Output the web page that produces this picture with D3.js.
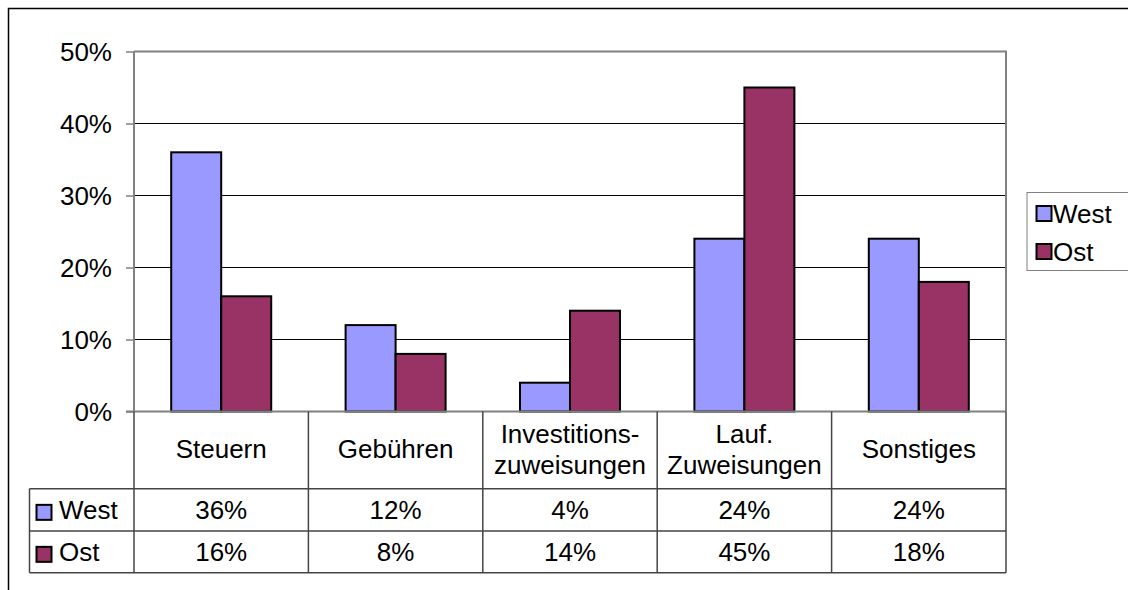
<!DOCTYPE html>
<html lang="de">
<head>
<meta charset="UTF-8">
<title>West / Ost</title>
<script src="https://d3js.org/d3.v7.min.js"></script>
<style>
    body { margin: 0; padding: 0; background: #fff; }
    svg text { font-family: "Liberation Sans", Arial, sans-serif; font-size: 26px; fill: #000; }
</style>
</head>
<body>
<svg width="1128" height="590"></svg>
<script>
    // data
    const categories = ["Steuern", "Gebühren", "Investitions-\nzuweisungen", "Lauf.\nZuweisungen", "Sonstiges"];
    const seriesNames = ["West", "Ost"];
    const westValues = [36, 12, 4, 24, 24];
    const ostValues = [16, 8, 14, 45, 18];
    const yTicks = [0, 10, 20, 30, 40, 50];
    const colors = { West: "#9999ff", Ost: "#993366" };

    const svg = d3.select("svg");
    const plotLeft = 134, plotRight = 1006, plotTop = 51.5, zero = 411.5;
    const rowLines = [488.7, 531, 572.7];
    const tableLeft = 29.5;

    // outer frame (runs off the canvas right and bottom)
    svg.append("path")
        .attr("d", "M8.5,600 V8.5 H1140")
        .attr("fill", "none").attr("stroke", "#000").attr("stroke-width", 1.5);

    const x = d3.scaleBand().domain(categories).range([plotLeft, plotRight]);
    const xs = d3.scaleBand().domain(seriesNames).range([0, x.bandwidth()]).paddingOuter(0.744);
    const y = d3.scaleLinear().domain([0, 50]).range([zero, plotTop]);

    // gridlines
    svg.append("g").selectAll("line")
        .data(yTicks.filter(d => d > 0 && d < 50))
        .join("line")
        .attr("x1", plotLeft).attr("x2", plotRight)
        .attr("y1", d => y(d)).attr("y2", d => y(d))
        .attr("stroke", "#000").attr("stroke-width", 1);

    // plot frame top and right
    svg.append("path")
        .attr("d", `M${plotLeft},${y(50)} H${plotRight} V${zero}`)
        .attr("fill", "none").attr("stroke", "#808080").attr("stroke-width", 2);

    // bars
    const rows = categories.map((c, i) => ({ cat: c, West: westValues[i], Ost: ostValues[i] }));
    svg.append("g").selectAll("g")
        .data(rows)
        .join("g")
        .attr("transform", d => `translate(${x(d.cat)},0)`)
        .selectAll("rect")
        .data(d => seriesNames.map(s => ({ s, v: d[s] })))
        .join("rect")
        .attr("x", d => xs(d.s))
        .attr("width", xs.bandwidth())
        .attr("y", d => y(d.v))
        .attr("height", d => zero - y(d.v))
        .attr("fill", d => colors[d.s])
        .attr("stroke", "#000").attr("stroke-width", 2);

    // y axis
    const yAxis = svg.append("g")
        .attr("transform", `translate(${plotLeft},0)`)
        .call(d3.axisLeft(y).tickValues(yTicks).tickFormat(d => d + "%").tickSize(8).tickPadding(14));
    yAxis.select(".domain").attr("stroke", "#808080").attr("stroke-width", 2).attr("d", `M0,${zero}V${plotTop}`);
    yAxis.selectAll(".tick line").attr("stroke", "#808080").attr("stroke-width", 1.5);
    yAxis.selectAll(".tick text").attr("font-size", 26).attr("font-family", "Liberation Sans, Arial, sans-serif")
        .attr("fill", "#000").attr("dy", "0.35em");

    // x axis baseline
    svg.append("line")
        .attr("x1", plotLeft - 8).attr("x2", plotRight).attr("y1", zero).attr("y2", zero)
        .attr("stroke", "#808080").attr("stroke-width", 2);

    // data table grid
    const grid = svg.append("g").attr("stroke", "#444").attr("stroke-width", 1.5);
    const colEdges = categories.map(c => x(c)).concat([plotRight]);
    colEdges.forEach(cx => {
        grid.append("line").attr("x1", cx).attr("x2", cx).attr("y1", zero).attr("y2", rowLines[2]);
    });
    rowLines.forEach(ry => {
        grid.append("line").attr("x1", tableLeft).attr("x2", plotRight).attr("y1", ry).attr("y2", ry);
    });
    grid.append("line").attr("x1", tableLeft).attr("x2", tableLeft).attr("y1", rowLines[0]).attr("y2", rowLines[2]);

    // category labels
    const catLabels = svg.append("g").selectAll("text")
        .data(categories)
        .join("text")
        .attr("text-anchor", "middle");
    catLabels.each(function (d) {
        const lines = d.split("\n");
        const t = d3.select(this);
        lines.forEach((ln, i) => {
            t.append("tspan")
                .attr("x", x(d) + x.bandwidth() / 2)
                .attr("y", 458.3 + (i - (lines.length - 1) / 2) * 31.4)
                .text(ln);
        });
    });

    // table rows
    const seriesValues = { West: westValues, Ost: ostValues };
    seriesNames.forEach((s, r) => {
        const base = (rowLines[r] + rowLines[r + 1]) / 2 + 9.5;
        svg.append("rect")
            .attr("x", 36.5).attr("y", base - 14.5).attr("width", 15).attr("height", 15)
            .attr("fill", colors[s]).attr("stroke", "#000").attr("stroke-width", 2);
        svg.append("text").attr("x", 59).attr("y", base).text(s);
        svg.append("g").selectAll("text")
            .data(seriesValues[s].map((v, i) => ({ v, c: categories[i] })))
            .join("text")
            .attr("text-anchor", "middle")
            .attr("x", d => x(d.c) + x.bandwidth() / 2)
            .attr("y", base)
            .text(d => d.v + "%");
    });

    // legend
    const legend = svg.append("g");
    legend.append("rect")
        .attr("x", 1027).attr("y", 192.5).attr("width", 120).attr("height", 78)
        .attr("fill", "#fff").attr("stroke", "#808080").attr("stroke-width", 1);
    seriesNames.forEach((s, i) => {
        const ly = 213.5 + i * 38;
        legend.append("rect")
            .attr("x", 1036.5).attr("y", ly - 7.5).attr("width", 15).attr("height", 15)
            .attr("fill", colors[s]).attr("stroke", "#000").attr("stroke-width", 2);
        legend.append("text").attr("x", 1053).attr("y", ly + 9.5).text(s);
    });
</script>
</body>
</html>
